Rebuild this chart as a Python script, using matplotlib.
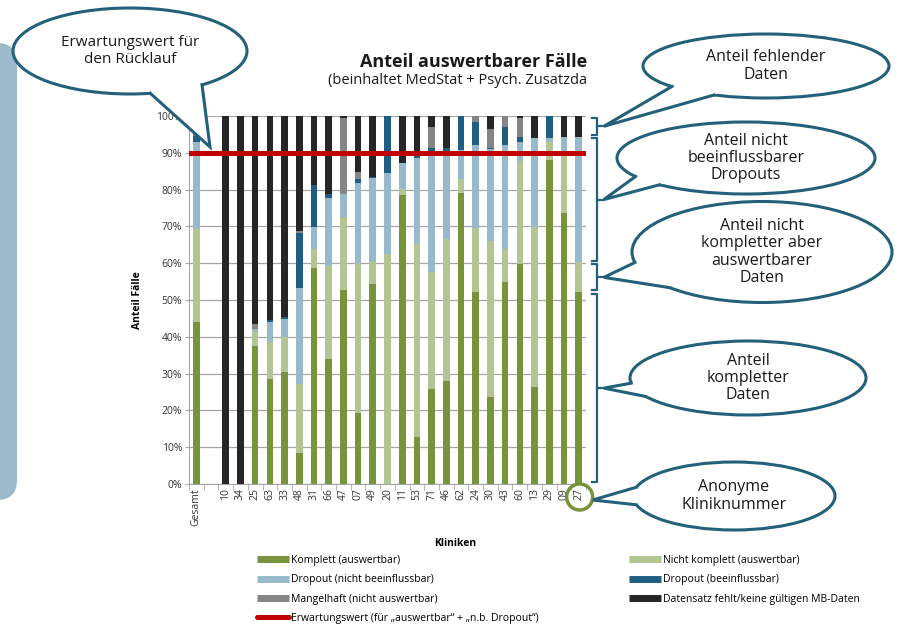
import numpy as np
import matplotlib
matplotlib.use('Agg')
import matplotlib.pyplot as plt
from matplotlib import ticker
from matplotlib.patches import Ellipse, Polygon, FancyBboxPatch, Circle
from matplotlib.lines import Line2D
from matplotlib.transforms import blended_transform_factory

plt.rcParams['font.family'] = ['Open Sans', 'DejaVu Sans']

# Kliniken (leere Stelle nach "Gesamt")
kliniken = ['Gesamt', '', '10', '34', '25', '63', '33', '48', '31', '66', '47', '07', '49',
            '20', '11', '53', '71', '46', '62', '24', '30', '43', '60', '13', '29', '09', '27']

# Anteile in %
komplett       = [44.0, 0, 0, 0, 37.5, 28.4, 30.3, 8.3, 58.6, 33.9, 52.7, 19.4, 54.3,
                  0.0, 78.5, 12.9, 25.7, 28.1, 79.0, 52.3, 23.6, 55.0, 59.7, 26.3, 88.0, 73.6, 52.1]
nicht_komplett = [25.3, 0, 0, 0, 3.9, 10.1, 9.7, 18.9, 5.3, 25.3, 19.8, 40.6, 6.1,
                  62.5, 1.7, 52.2, 32.0, 38.5, 3.9, 17.2, 42.3, 8.9, 28.1, 43.6, 4.8, 15.8, 8.1]
dropout_nb     = [23.7, 0, 0, 0, 0.6, 5.6, 4.8, 26.0, 6.0, 18.6, 6.3, 21.8, 22.8,
                  21.9, 6.9, 23.6, 31.5, 22.6, 7.9, 22.6, 25.1, 28.2, 5.2, 24.0, 1.3, 5.0, 34.2]
dropout_b      = [1.5, 0, 0, 0, 0.0, 0.5, 0.7, 15.0, 11.3, 0.9, 0.0, 1.1, 0.3,
                  15.6, 0.0, 0.7, 2.0, 2.0, 9.2, 6.4, 0.4, 5.0, 1.4, 0.0, 5.9, 0.0, 0.0]
mangelhaft     = [1.5, 0, 0, 0, 1.4, 0.0, 0.0, 0.5, 0.0, 0.0, 20.6, 2.0, 0.0,
                  0.0, 0.0, 0.0, 5.9, 0.0, 0.0, 1.5, 5.1, 2.9, 5.0, 0.0, 0.0, 0.0, 0.0]
fehlt          = [4.0, 0, 100, 100, 56.6, 55.4, 54.5, 31.3, 18.8, 21.3, 0.6, 15.1, 16.5,
                  0.0, 12.9, 10.6, 2.9, 8.8, 0.0, 0.0, 3.5, 0.0, 0.6, 6.1, 0.0, 5.6, 5.6]
erwartungswert = 90

c_k, c_nk, c_dnb, c_db, c_m, c_f = '#77933C', '#B3C593', '#98B9CB', '#1F5E82', '#858585', '#262626'
c_red = '#C00000'
teal = '#23607A'

series = [
    (komplett, c_k, 'Komplett (auswertbar)'),
    (nicht_komplett, c_nk, 'Nicht komplett (auswertbar)'),
    (dropout_nb, c_dnb, 'Dropout (nicht beeinflussbar)'),
    (dropout_b, c_db, 'Dropout (beeinflussbar)'),
    (mangelhaft, c_m, 'Mangelhaft (nicht auswertbar)'),
    (fehlt, c_f, 'Datensatz fehlt/keine gültigen MB-Daten'),
]

fig = plt.figure(figsize=(9, 6.28), dpi=100)
ax = fig.add_axes([189 / 900, 1 - 484 / 628, (586 - 189) / 900, (484 - 116) / 628])

x = np.arange(len(kliniken))
bottom = np.zeros(len(x))
for vals, color, label in series:
    vals = np.array(vals, dtype=float)
    ax.bar(x, vals, bottom=bottom, width=0.45, color=color, zorder=3)
    bottom += vals

ax.axhline(erwartungswert, color=c_red, lw=3.6, zorder=4)

ax.set_xlim(-0.5, len(x) - 0.5)
ax.set_ylim(0, 100)
ax.yaxis.set_major_locator(ticker.MultipleLocator(10))
ax.yaxis.set_major_formatter(ticker.PercentFormatter(decimals=0))
ax.grid(axis='y', color='#A6A6A6', lw=0.9, zorder=0)
for s in ['top', 'right']:
    ax.spines[s].set_visible(False)
for s in ['left', 'bottom']:
    ax.spines[s].set_color('#A6A6A6')
ax.set_xticks(x)
ax.set_xticklabels(kliniken, rotation=90, fontsize=7.5, color='#333333')
ax.set_xticks(np.arange(len(x) + 1) - 0.5, minor=True)
ax.tick_params(axis='x', which='major', length=0, pad=3)
ax.tick_params(axis='x', which='minor', length=4, color='#A6A6A6')
ax.tick_params(axis='y', length=3, color='#A6A6A6', labelsize=7.5, labelcolor='#333333', pad=2)
ax.set_ylabel('Anteil Fälle', fontsize=7.5, fontweight='bold')
ax.yaxis.set_label_coords(-0.116, 0.5)
ax.set_xlabel('Kliniken', fontsize=7.5, fontweight='bold')
ax.xaxis.set_label_coords(0.67, -0.148)

# Overlay in Pixelkoordinaten fuer Sprechblasen
ov = fig.add_axes([0, 0, 1, 1])
ov.set_xlim(0, 900)
ov.set_ylim(628, 0)
ov.axis('off')
ov.patch.set_visible(False)


def to_ov(trans, pt):
    return ov.transData.inverted().transform(trans.transform(pt))


def callout(cx, cy, w, h, tip, a1, a2, text, fs=11.5):
    ov.add_patch(Ellipse((cx, cy), w, h, fc='white', ec=teal, lw=2.2, zorder=5))
    pts, inner = [], []
    for a in (a1, a2):
        r = np.radians(a)
        pts.append((cx + w / 2 * np.cos(r), cy + h / 2 * np.sin(r)))
        inner.append((cx + 0.85 * w / 2 * np.cos(r), cy + 0.85 * h / 2 * np.sin(r)))
    ov.add_patch(Polygon([pts[0], tip, pts[1], inner[1], inner[0]], closed=True,
                         fc='white', ec='none', zorder=6))
    ov.plot([pts[0][0], tip[0], pts[1][0]], [pts[0][1], tip[1], pts[1][1]],
            color=teal, lw=2.2, zorder=7, solid_joinstyle='miter')
    ov.text(cx, cy, text, ha='center', va='center', fontsize=fs, color='#1A1A1A',
            zorder=8, linespacing=1.1)


# linke Leiste
ov.add_patch(FancyBboxPatch((-40, 43), 57, 457, boxstyle='round,pad=0,rounding_size=20',
                            fc='#9BBACB', ec='none', zorder=1))

# Titel
ov.text(587, 62, 'Anteil auswertbarer Fälle', ha='right', va='center', fontsize=13,
        fontweight='bold', color='#1A1A1A')
ov.text(587, 80, '(beinhaltet MedStat + Psych. Zusatzda', ha='right', va='center',
        fontsize=10.5, color='#1A1A1A')

# Klammern am letzten Balken
last = len(kliniken) - 1
k, nk = komplett[last], nicht_komplett[last]
dr = dropout_nb[last] + dropout_b[last] + mangelhaft[last]
levels = [0, k, k + nk, k + nk + dr, 100]
bt = blended_transform_factory(ax.transAxes, ax.transData)
mids = []
for lo, hi in zip(levels[:-1], levels[1:]):
    lo, hi = lo + 0.5, hi - 0.5
    m = (lo + hi) / 2
    ax.plot([1.015, 1.028, 1.028, 1.015], [lo, lo, hi, hi], transform=bt, color=teal,
            lw=1.6, clip_on=False, zorder=5)
    ax.plot([1.028, 1.042], [m, m], transform=bt, color=teal, lw=1.6, clip_on=False, zorder=5)
    mids.append(to_ov(bt, (1.045, m)))

callout(766, 66, 246, 64, tuple(mids[3]), 140, 115, 'Anteil fehlender\nDaten')
callout(746, 158, 258, 72, tuple(mids[2]), 149, 132, 'Anteil nicht\nbeeinflussbarer\nDropouts')
callout(762, 252, 260, 101, tuple(mids[1]), 168, 135, 'Anteil nicht\nkompletter aber\nauswertbarer\nDaten')
callout(748, 378, 236, 74, tuple(mids[0]), 172, 150, 'Anteil\nkompletter\nDaten')

# Kreis um Kliniknummer
kx = to_ov(ax.transData, (last, 0))[0]
ov.add_patch(Circle((kx + 1, 497), 13, fc='none', ec=c_k, lw=2.5, zorder=5))
callout(734, 496, 202, 68, (kx + 14, 500), 165, 195, 'Anonyme\nKliniknummer')

# Erwartungswert-Blase
callout(130, 51, 234, 86, (210, 147), 52, 80, 'Erwartungswert für\nden Rücklauf', fs=11)

# Legende
h = [Line2D([], [], color=c, lw=5, solid_capstyle='butt') for _, c, _ in series]
labels = [l for _, _, l in series]
h_red = Line2D([], [], color=c_red, lw=3.6, solid_capstyle='round')
handles = [h[0], h[2], h[4], h_red, h[1], h[3], h[5]]
labs = [labels[0], labels[2], labels[4],
        'Erwartungswert (für \u201eauswertbar\u201c + \u201en.b. Dropout\u201c)',
        labels[1], labels[3], labels[5]]
fig.legend(handles, labs, loc='upper left', bbox_to_anchor=(257 / 900, 1 - 555 / 628), ncol=2,
           frameon=False, fontsize=7.5, handlelength=3.1, handletextpad=0.2,
           labelspacing=0.8, columnspacing=8.6, borderaxespad=0, borderpad=0)

fig.savefig('out.png', dpi=100)
